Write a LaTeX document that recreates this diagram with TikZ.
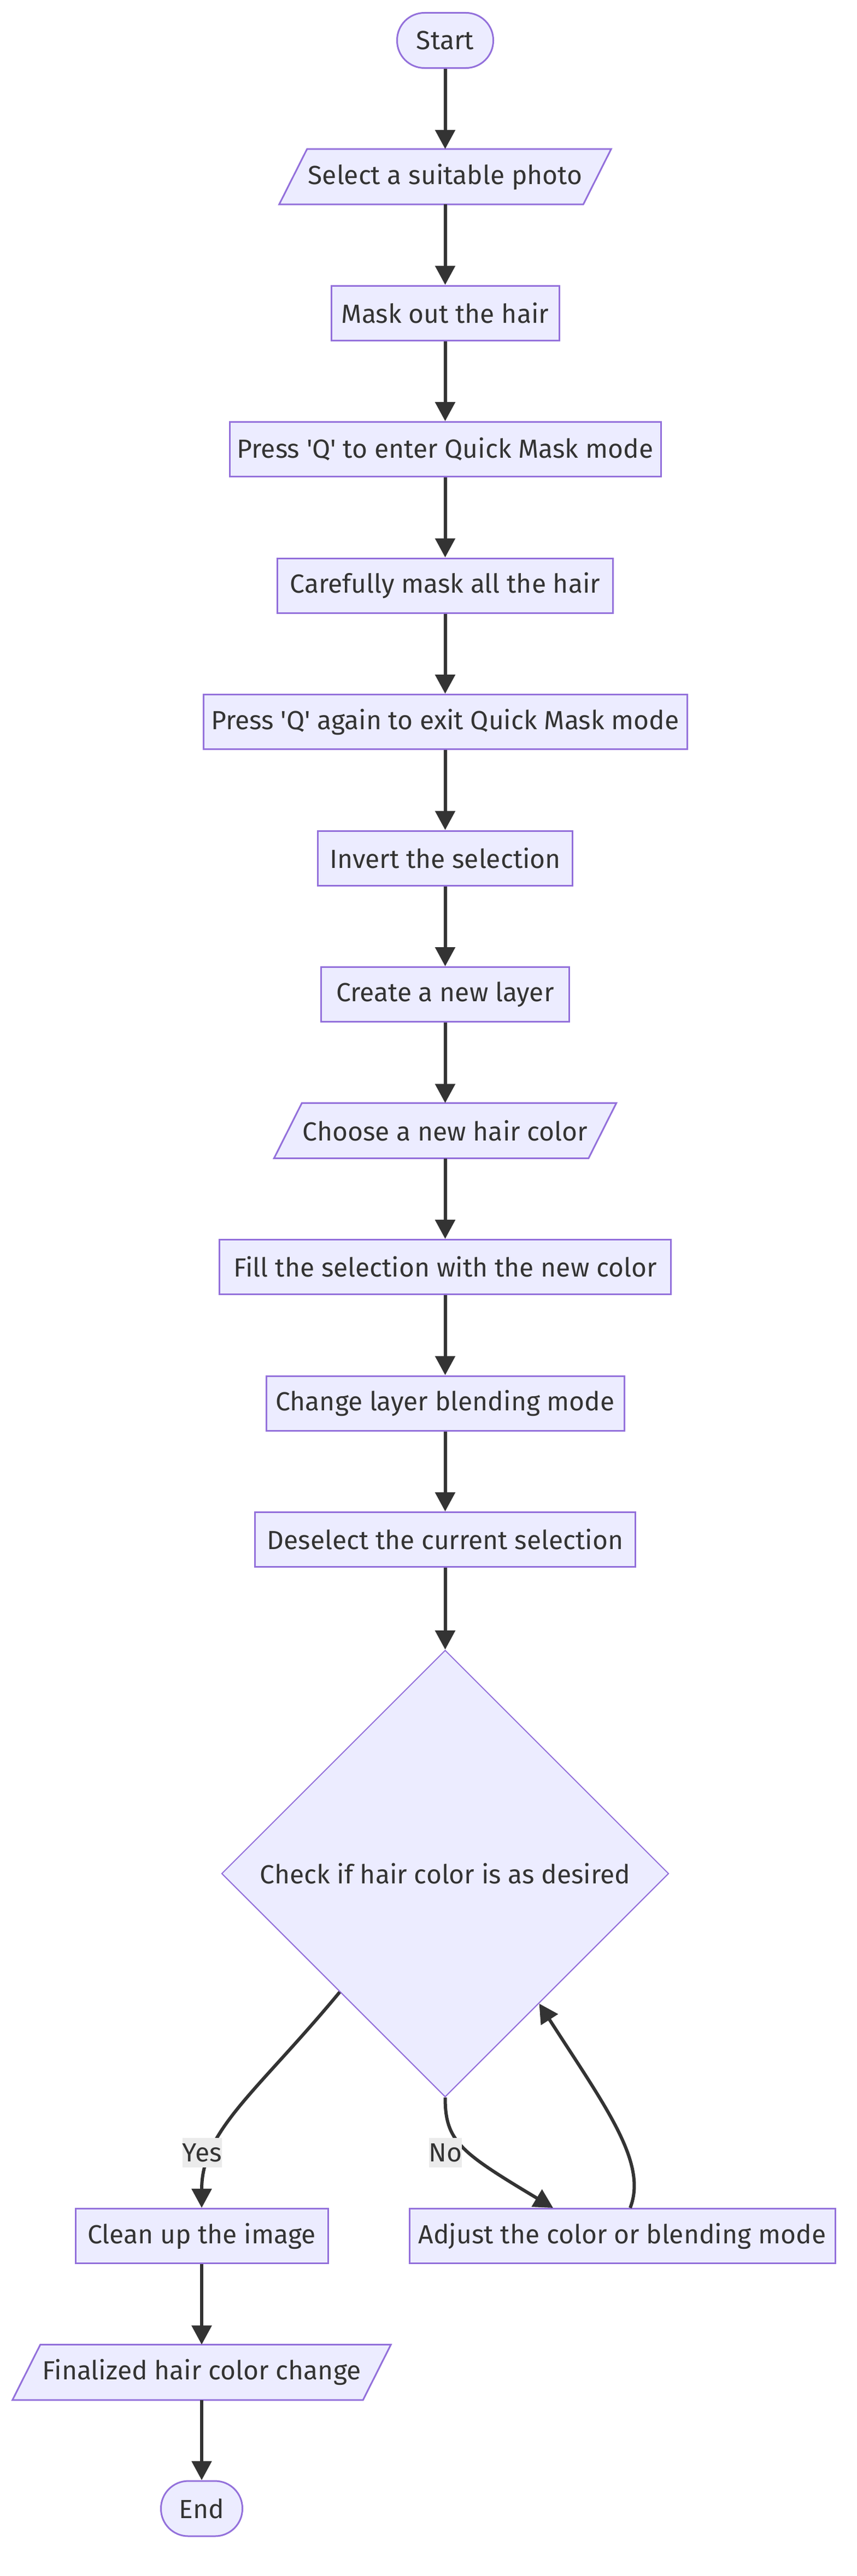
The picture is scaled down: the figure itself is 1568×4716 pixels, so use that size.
\documentclass[tikz,border=0pt]{standalone}
\usepackage{fontspec}
\setmainfont{Fira Sans}
\usetikzlibrary{arrows.meta,shapes.geometric,backgrounds}
\definecolor{nfill}{HTML}{ECECFF}
\definecolor{nline}{HTML}{9370DB}
\definecolor{ink}{HTML}{333333}
\definecolor{lblbg}{HTML}{EBEBEB}
\newcommand{\ioshape}[1]{%
  \begin{pgfonlayer}{background}
    \filldraw[draw=nline,fill=nfill,line width=3pt,line join=miter]
      ([xshift=25.5pt]#1.north west) -- ([xshift=25.5pt]#1.north east)
      -- ([xshift=-25.5pt]#1.south east) -- ([xshift=-25.5pt]#1.south west) -- cycle;
  \end{pgfonlayer}}
\begin{document}
\begin{tikzpicture}[x=1pt,y=-1pt,
  txt/.style={text=ink,font=\fontsize{48pt}{58pt}\selectfont},
  box/.style={txt,draw=nline,fill=nfill,line width=3pt,rectangle,minimum height=100pt,inner sep=0pt},
  term/.style={box,rounded corners=50pt,minimum height=101pt},
  io/.style={txt,rectangle,minimum height=101pt,inner sep=0pt},
  decision/.style={txt,diamond,aspect=1,draw=nline,fill=nfill,line width=2pt,minimum width=818pt,minimum height=818pt,inner sep=0pt},
  lbl/.style={txt,fill=lblbg,inner xsep=0pt,inner ysep=0pt,minimum height=54pt},
  edge/.style={draw=ink,line width=6pt,-{Triangle[length=35pt,width=36pt]}}]
\useasboundingbox (0,0) rectangle (1568,4716);
\begin{pgfonlayer}{background}
\fill[white] (0,0) rectangle (1568,4716);
\end{pgfonlayer}

\node[term,minimum width=176pt] (start) at (814.5,74) {Start};
\node[io,minimum width=556pt] (sel) at (814.5,323.5) {Select a suitable photo};
\ioshape{sel}
\node[box,minimum width=417pt] (mask) at (814.5,573) {Mask out the hair};
\node[box,minimum width=789pt] (pq) at (814.5,822.5) {Press \textquotesingle Q\textquotesingle{} to enter Quick Mask mode};
\node[box,minimum width=614pt] (care) at (814.5,1072) {Carefully mask all the hair};
\node[box,minimum width=885pt] (pqa) at (814.5,1321.5) {Press \textquotesingle Q\textquotesingle{} again to exit Quick Mask mode};
\node[box,minimum width=466pt] (inv) at (814.5,1571) {Invert the selection};
\node[box,minimum width=454pt] (create) at (814.5,1820.5) {Create a new layer};
\node[io,minimum width=575pt] (choose) at (814.5,2070) {Choose a new hair color};
\ioshape{choose}
\node[box,minimum width=826pt] (fill) at (814.5,2319.5) {Fill the selection with the new color};
\node[box,minimum width=655pt] (change) at (814.5,2569) {Change layer blending mode};
\node[box,minimum width=696pt] (desel) at (814.5,2818.5) {Deselect the current selection};
\node[decision] (dia) at (814.5,3430) {Check if hair color is as desired};
\node[box,minimum width=462pt] (clean) at (369,4093.5) {Clean up the image};
\node[box,minimum width=779pt] (adj) at (1138.5,4093.5) {Adjust the color or blending mode};
\node[io,minimum width=641pt] (final) at (369,4343) {Finalized hair color change};
\ioshape{final}
\node[term,minimum width=149pt] (end) at (369,4592.5) {End};

\draw[edge] (start) -- (sel);
\draw[edge] (sel) -- (mask);
\draw[edge] (mask) -- (pq);
\draw[edge] (pq) -- (care);
\draw[edge] (care) -- (pqa);
\draw[edge] (pqa) -- (inv);
\draw[edge] (inv) -- (create);
\draw[edge] (create) -- (choose);
\draw[edge] (choose) -- (fill);
\draw[edge] (fill) -- (change);
\draw[edge] (change) -- (desel);
\draw[edge] (desel) -- (dia);
\draw[edge] ([xshift=12pt,yshift=-12pt]dia.south west) .. controls (470,3830) and (369,3900) .. (clean.north);
\draw[edge] (dia.south) .. controls (814.5,3920) and (842,3940) .. ([xshift=-126.5pt]adj.north);
\draw[edge] ([xshift=14.5pt]adj.north) .. controls (1185,3960) and (1110,3860) .. ([xshift=-33pt,yshift=-33pt]dia.south east);
\draw[edge] (clean) -- (final);
\draw[edge] (final) -- (end);

\node[lbl] (ly) at (370,3941) {Yes};
\node[lbl] (ln) at (815,3941) {No};
\end{tikzpicture}
\end{document}
